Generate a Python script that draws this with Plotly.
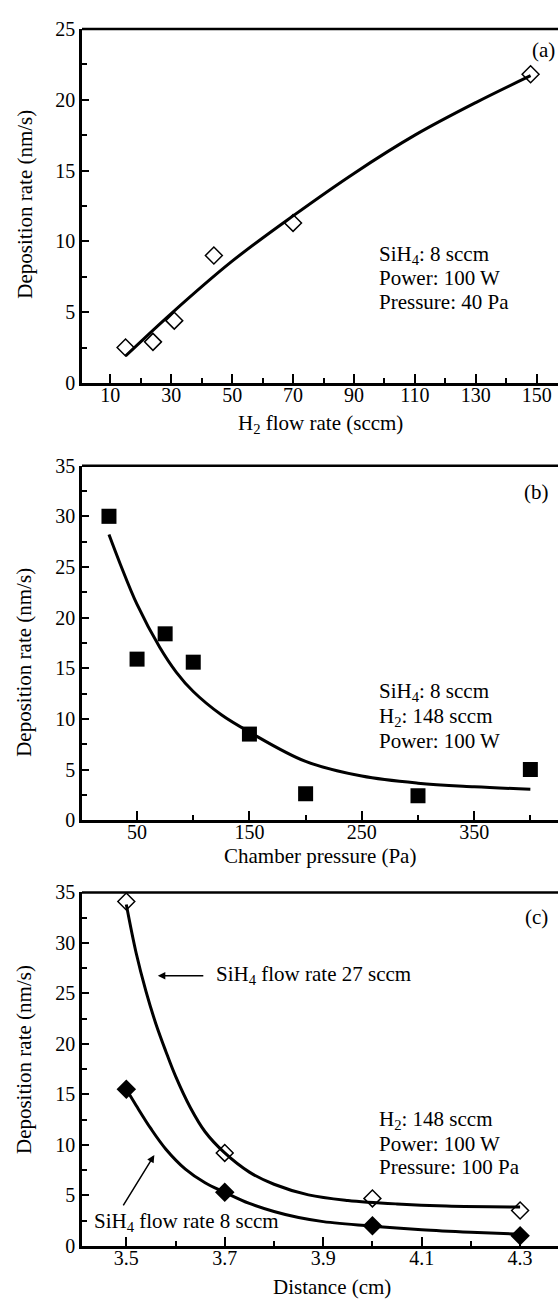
import plotly.graph_objects as go

# ---------------- data ----------------
# (a) deposition rate vs H2 flow rate
h2_flow = [15, 24, 31, 44, 70, 148]
rate_a = [2.5, 2.9, 4.4, 9.0, 11.3, 21.8]
fit_a_x = [15, 30, 50, 70, 90, 110, 130, 148]
fit_a_y = [1.9, 4.9, 8.6, 11.8, 14.8, 17.5, 19.8, 21.7]

# (b) deposition rate vs chamber pressure
pressure = [25, 50, 75, 100, 150, 200, 300, 400]
rate_b = [30.0, 15.9, 18.4, 15.6, 8.5, 2.6, 2.4, 5.0]
fit_b_x = [25, 35, 50, 70, 85, 100, 125, 150, 200, 250, 300, 350, 400]
fit_b_y = [28.2, 25.3, 21.3, 17.1, 14.6, 12.7, 10.4, 8.7, 5.8, 4.35, 3.65, 3.3, 3.05]

# (c) deposition rate vs distance
distance = [3.5, 3.7, 4.0, 4.3]
rate_27 = [34.1, 9.2, 4.7, 3.5]
rate_8 = [15.5, 5.3, 2.0, 1.0]
fit27_x = [3.50, 3.52, 3.54, 3.56, 3.58, 3.60, 3.63, 3.66, 3.70, 3.75, 3.80, 3.87, 3.95, 4.05, 4.15, 4.30]
fit27_y = [33.8, 29.0, 25.2, 22.0, 19.3, 16.8, 13.7, 11.3, 9.2, 7.3, 6.1, 5.05, 4.5, 4.15, 3.95, 3.85]
fit8_x = [3.50, 3.52, 3.55, 3.58, 3.62, 3.66, 3.70, 3.75, 3.80, 3.85, 3.90, 4.00, 4.10, 4.20, 4.30]
fit8_y = [15.5, 13.9, 11.6, 9.6, 7.6, 6.25, 5.3, 4.2, 3.4, 2.8, 2.4, 1.95, 1.6, 1.35, 1.15]

xticks_a = [10, 30, 50, 70, 90, 110, 130, 150]
xminor_a = [20, 40, 60, 80, 100, 120, 140]
xticks_b = [50, 150, 250, 350]
xminor_b = [100, 200, 300, 400]
xticks_c = [3.5, 3.7, 3.9, 4.1, 4.3]
xminor_c = [3.6, 3.8, 4.0, 4.2]

# ---------------- layout helpers ----------------
W, H = 558, 1307
FONT = "Liberation Serif"


def px(x):
    return x / W


def py(y):
    return 1 - y / H


X0 = px(82)
dom_a = [py(378.3), py(18.3)]
dom_b = [py(823), py(462.5)]
dom_c = [py(1256), py(896.5)]


def xaxis(rng, ticks, minor, anchor):
    return dict(
        domain=[X0, 1], range=rng, anchor=anchor,
        showline=True, linecolor="black", linewidth=2.5,
        showgrid=False, zeroline=False,
        ticks="inside", ticklen=9, tickwidth=2, tickcolor="black",
        tickmode="array", tickvals=ticks, ticklabelstandoff=-8,
        tickfont=dict(family=FONT, size=20, color="black"),
        minor=dict(ticks="inside", ticklen=5, tickwidth=2, tickcolor="black",
                   tickmode="array", tickvals=minor, showgrid=False),
    )


def yaxis(dom, rng, anchor):
    return dict(
        domain=dom, range=rng, anchor=anchor,
        showline=True, linecolor="black", linewidth=2.5,
        showgrid=False, zeroline=False,
        ticks="inside", ticklen=7, tickwidth=2, tickcolor="black",
        tick0=0, dtick=5,
        tickfont=dict(family=FONT, size=20, color="black"),
        minor=dict(ticks="inside", ticklen=5, tickwidth=2, tickcolor="black",
                   tick0=2.5, dtick=5, showgrid=False),
    )


fig = go.Figure()

# (a)
fig.add_trace(go.Scatter(x=h2_flow, y=rate_a, mode="markers", xaxis="x", yaxis="y",
                         marker=dict(symbol="diamond-open", size=13, color="black",
                                     line=dict(width=1.5, color="black"))))
fig.add_trace(go.Scatter(x=fit_a_x, y=fit_a_y, mode="lines", xaxis="x", yaxis="y",
                         line=dict(color="black", width=3, shape="spline", smoothing=1)))
# (b)
fig.add_trace(go.Scatter(x=pressure, y=rate_b, mode="markers", xaxis="x2", yaxis="y2",
                         marker=dict(symbol="square", size=15, color="black")))
fig.add_trace(go.Scatter(x=fit_b_x, y=fit_b_y, mode="lines", xaxis="x2", yaxis="y2",
                         line=dict(color="black", width=3, shape="spline", smoothing=1)))
# (c)
fig.add_trace(go.Scatter(x=distance, y=rate_27, mode="markers", xaxis="x3", yaxis="y3",
                         marker=dict(symbol="diamond-open", size=13, color="black",
                                     line=dict(width=1.5, color="black"))))
fig.add_trace(go.Scatter(x=distance, y=rate_8, mode="markers", xaxis="x3", yaxis="y3",
                         marker=dict(symbol="diamond", size=15, color="black")))
fig.add_trace(go.Scatter(x=fit27_x, y=fit27_y, mode="lines", xaxis="x3", yaxis="y3",
                         line=dict(color="black", width=3, shape="spline", smoothing=1)))
fig.add_trace(go.Scatter(x=fit8_x, y=fit8_y, mode="lines", xaxis="x3", yaxis="y3",
                         line=dict(color="black", width=3, shape="spline", smoothing=1)))

fig.update_layout(
    width=W, height=H, autosize=False,
    margin=dict(l=0, r=0, t=0, b=0, pad=0),
    paper_bgcolor="white", plot_bgcolor="white",
    showlegend=False,
    font=dict(family=FONT, size=21, color="black"),
    xaxis=xaxis([0.7, 157], xticks_a, xminor_a, "y"),
    yaxis=yaxis(dom_a, [0, 25], "x"),
    xaxis2=xaxis([1, 424.6], xticks_b, xminor_b, "y2"),
    yaxis2=yaxis(dom_b, [0, 35], "x2"),
    xaxis3=xaxis([3.41, 4.377], xticks_c, xminor_c, "y3"),
    yaxis3=yaxis(dom_c, [0, 35], "x3"),
)

# top frame lines
for dom in (dom_a, dom_b, dom_c):
    fig.add_shape(type="line", xref="paper", yref="paper", x0=X0, x1=1, y0=dom[1], y1=dom[1],
                  line=dict(color="black", width=2.5))

ann = []


def txt(x, y, s, xanchor="left", angle=0, size=21):
    ann.append(dict(x=x, y=y, xref="paper", yref="paper", text=s, showarrow=False,
                    xanchor=xanchor, yanchor="middle", textangle=angle,
                    font=dict(family=FONT, size=size, color="black")))


# axis titles
ytitle = "Deposition rate (nm/s)"
txt(px(25), py(197), ytitle, "center", -90)
txt(px(24), py(663), ytitle, "center", -90)
txt(px(24), py(1067), ytitle, "center", -90)
txt(px(320), py(420), "H<sub>2</sub> flow rate (sccm)", "center")
txt(px(320), py(859), "Chamber pressure (Pa)", "center")
txt(px(332), py(1298), "Distance (cm)", "center")

# panel labels
txt(px(543), py(40), "(a)", "center")
txt(px(536), py(489), "(b)", "center")
txt(px(536), py(922), "(c)", "center")

# condition texts
for s, y in zip(["SiH<sub>4</sub>: 8 sccm", "Power: 100 W", "Pressure: 40 Pa"], [248, 272, 296]):
    txt(px(377), py(y), s)
for s, y in zip(["SiH<sub>4</sub>: 8 sccm", "H<sub>2</sub>: 148 sccm", "Power: 100 W"], [693, 718, 743]):
    txt(px(377), py(y), s)
for s, y in zip(["H<sub>2</sub>: 148 sccm", "Power: 100 W", "Pressure: 100 Pa"], [1128, 1152, 1176]):
    txt(px(377), py(y), s)

# series labels in (c)
txt(px(214), py(980), "SiH<sub>4</sub> flow rate 27 sccm")
txt(px(92), py(1232), "SiH<sub>4</sub> flow rate 8 sccm")

# arrows in (c)
ann.append(dict(x=3.564, y=26.75, xref="x3", yref="y3", text="", showarrow=True,
                ax=47, ay=0, axref="pixel", ayref="pixel",
                arrowhead=2, arrowsize=1, arrowwidth=1.5, arrowcolor="black"))
ann.append(dict(x=3.557, y=9.0, xref="x3", yref="y3", text="", showarrow=True,
                ax=-32, ay=52, axref="pixel", ayref="pixel",
                arrowhead=2, arrowsize=1, arrowwidth=1.5, arrowcolor="black"))

fig.update_layout(annotations=ann)

fig.write_html("out.html", config={"displayModeBar": False},
               post_script="document.body.style.margin='0';")
